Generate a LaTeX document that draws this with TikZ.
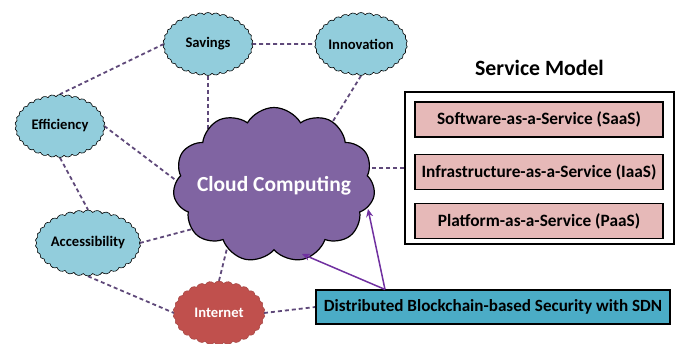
\documentclass[tikz,border=0pt]{standalone}
\usepackage{fontspec}
\setmainfont{Carlito}
\usetikzlibrary{shapes.symbols,arrows.meta,backgrounds,calc}
\definecolor{cyanc}{HTML}{92CDDC}
\definecolor{purc}{HTML}{8064A2}
\definecolor{redc}{HTML}{C0504D}
\definecolor{pinkc}{HTML}{E6B9B8}
\definecolor{tealc}{HTML}{4BACC6}
\definecolor{dashc}{HTML}{5F497A}
\definecolor{arrc}{HTML}{7030A0}
\tikzset{
  smallcloud/.style={shape=cloud, cloud puffs=34, cloud puff arc=110, cloud ignores aspect,
    minimum width=90pt, minimum height=63pt, inner sep=0pt, fill=cyanc, draw=black, line width=0.6pt,
    font=\fontsize{14.6}{16}\selectfont\bfseries},
  netcloud/.style={shape=cloud, cloud puffs=30, cloud puff arc=110, cloud ignores aspect,
    minimum width=92pt, minimum height=64pt, inner sep=0pt, fill=redc, draw=redc!85!black, line width=0.5pt,
    text=white, font=\fontsize{14.6}{16}\selectfont\bfseries},
  bigcloud/.style={shape=cloud, cloud puffs=11, cloud puff arc=120, cloud ignores aspect,
    minimum width=202pt, minimum height=155pt, inner sep=0pt, fill=purc, draw=black, line width=1.2pt},
  svcitem/.style={draw=black, line width=1.1pt, fill=pinkc, minimum width=248pt, minimum height=35pt,
    inner sep=0pt, font=\fontsize{17.3}{19}\selectfont\bfseries},
  conn/.style={draw=dashc, line width=1.8pt, dash pattern=on 4pt off 3pt},
  arr/.style={draw=arrc, line width=1.5pt, -{Stealth[length=8pt,width=7pt]}}
}
\begin{document}
\begin{tikzpicture}[x=1pt,y=-1pt]
\useasboundingbox (0,0) rectangle (679,344);
\node[smallcloud] (sav) at (208,44) {Savings};
\node[smallcloud] (inn) at (361,44) {Innovation};
\node[smallcloud] (eff) at (60,126) {Efficiency};
\node[smallcloud, minimum height=66pt] (acc) at (88,243) {Accessibility};
\node[netcloud] (int) at (219,313) {Internet};
\node[bigcloud] (cc) at (274,185) {};
\node[text=white, font=\fontsize{21.5}{24}\selectfont\bfseries] (cct) at (274,186) {Cloud Computing};
\node[font=\fontsize{21.8}{24}\selectfont\bfseries] (title) at (539.5,68) {Service Model};
\node[draw=black, line width=1.6pt, minimum width=269pt, minimum height=152pt, inner sep=0pt] (svc) at (539.5,168) {};
\node[svcitem] (saas) at (539,119.5) {Software-as-a-Service (SaaS)};
\node[svcitem] (iaas) at (539,172) {Infrastructure-as-a-Service (IaaS)};
\node[svcitem] (paas) at (539,221) {Platform-as-a-Service (PaaS)};
\node[draw=black, line width=1.1pt, fill=tealc, minimum width=354pt, minimum height=34pt, inner sep=0pt,
  font=\fontsize{17.1}{19}\selectfont\bfseries] (dist) at (493,307) {Distributed Blockchain-based Security with SDN};
\coordinate (innend) at (330,126);
\coordinate (effend) at (190,191);
\coordinate (accend) at (200,227);
\coordinate (intend) at (231,232);
\coordinate (ccA) at (368,209);
\coordinate (ccB) at (302,254);
\begin{scope}[on background layer]
\draw[conn] (sav.east) -- (inn.west);
\draw[conn] (sav.west) -- (eff.north);
\draw[conn] (sav.south) -- (sav.south |- cc.center);
\draw[conn] (inn.south) -- (innend);
\draw[conn] (eff.east) -- (effend);
\draw[conn] (eff.south) -- (acc.north);
\draw[conn] (acc.east) -- (accend);
\draw[conn] (acc.south) -- (int.west);
\draw[conn] (int.north) -- (intend);
\draw[conn] (int.east) -- (dist.west);
\draw[conn] (svc.west) -- (svc.west -| cc.center);
\end{scope}
\draw[arr] ([xshift=-108pt]dist.north) -- (ccA);
\draw[arr] ([xshift=-108pt]dist.north) -- (ccB);
\end{tikzpicture}
\end{document}
